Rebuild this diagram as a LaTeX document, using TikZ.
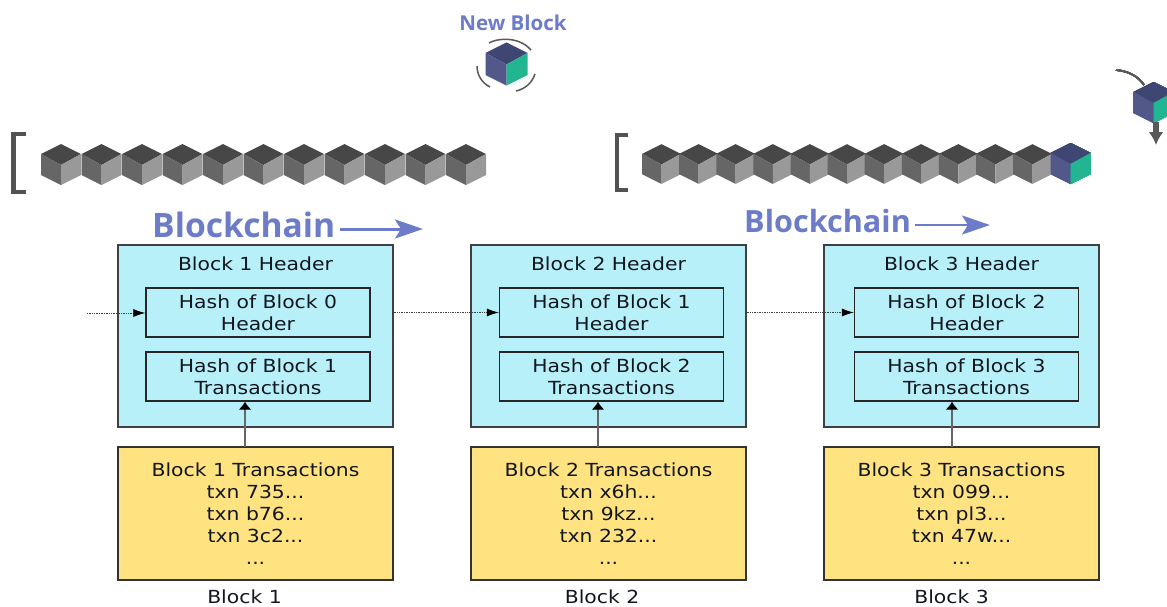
\documentclass[tikz,border=0pt]{standalone}
\usepackage{fontspec}
\setmainfont{Open Sans}
\newfontfamily\boxfont[FakeStretch=1.13]{DejaVu Sans}
\usetikzlibrary{arrows.meta, calc, positioning}
\definecolor{hdrblue}{HTML}{B8F0FA}
\definecolor{txnyellow}{HTML}{FFE380}
\definecolor{chainblue}{HTML}{6C7CC8}
\definecolor{cubedark}{HTML}{3F4674}
\definecolor{cubeleft}{HTML}{52598A}
\definecolor{cubegreen}{HTML}{22B592}
\definecolor{textdark}{HTML}{12161F}
\tikzset{
  hdrbox/.style={draw=black!75, line width=1.5pt, fill=hdrblue, minimum width=275pt, minimum height=182pt, inner sep=0pt},
  hashbox/.style={draw=black!85, line width=1.4pt, fill=hdrblue, align=center, minimum width=224pt, minimum height=49pt, inner sep=0pt, text=textdark, font=\boxfont\fontsize{18}{22}\selectfont},
  txnbox/.style={draw=black!80, line width=1.5pt, fill=txnyellow, align=center, minimum width=275pt, minimum height=133pt, inner sep=0pt, text=textdark, font=\boxfont\fontsize{18}{22}\selectfont},
  lbl/.style={text=textdark, font=\boxfont\fontsize{18}{20}\selectfont},
  link/.style={densely dotted, black!75, line width=0.7pt, -{Latex[black, length=12pt, width=8pt]}},
  feed/.style={line width=1.4pt, black!60, -{Latex[black, length=8pt, width=13pt]}},
  spin/.style={black!65, line width=1.5pt},
  chainarrow/.style={chainblue, -{Stealth[length=28pt, width=19pt, inset=6pt]}}
}
\newcommand{\cube}[6][1]{%
  \begin{scope}[shift={(#2,#3)}, scale=#1]
  \fill[#4] (0,0) -- ++(-20,-11) -- ++(20,-10) -- ++(20,10) -- cycle;
  \fill[#5] (0,0) -- ++(-20,-11) -- ++(0,21) -- ++(20,10) -- cycle;
  \fill[#6] (0,0) -- ++(20,-11) -- ++(0,21) -- ++(-20,10) -- cycle;
  \end{scope}
}
\begin{document}
\begin{tikzpicture}[x=1pt, y=-1pt, >=Latex]
\useasboundingbox (0,0) rectangle (1167,606);
% new block
\node[text=chainblue, font=\bfseries\fontsize{20.5}{24}\selectfont] (newblock) at (513,23) {New Block};
\cube[1.05]{506.5}{64.5}{cubedark}{cubeleft}{cubegreen}
\draw[spin] (489,43) .. controls (495,39) and (518,35) .. (531,50);
\draw[spin] (477,66) .. controls (477,75) and (482,83) .. (490,87);
\draw[spin] (516,91) .. controls (525,89) and (532,83) .. (535,74);
% left chain
\draw[black!68, line width=4.5pt] (26,134) -- (13.5,134) -- (13.5,192) -- (26,192);
\foreach \i in {0,...,10}
  \cube{61+40.5*\i}{165}{black!72}{black!60}{black!40}
% right chain
\draw[black!68, line width=4.5pt] (628,135) -- (617,135) -- (617,190) -- (628,190);
\foreach \i in {0,...,10}
  \cube[0.97]{661.5+37.1*\i}{164.5}{black!72}{black!60}{black!40}
\cube{1070.5}{164}{cubedark}{cubeleft}{cubegreen}
% falling block
\cube{1153.5}{103}{cubedark}{cubeleft}{cubegreen}
\draw[black!65, line width=1.6pt] (1116,70) .. controls (1128,71) and (1138,76) .. (1144,85);
\draw[black!65, line width=6pt, -{Latex[length=13pt, width=15pt]}] (1156,122) -- (1156,145);
% titles
\node[text=chainblue, font=\bfseries\fontsize{33.6}{38}\selectfont, anchor=west, inner sep=0pt] (chain1) at (152,225) {Blockchain};
\coordinate (chain1end) at (423,229);
\draw[chainarrow, line width=3pt] (chain1.east |- chain1end) ++(5,0) -- (chain1end);
\node[text=chainblue, font=\bfseries\fontsize{30.6}{34}\selectfont, anchor=west, inner sep=0pt] (chain2) at (744,221) {Blockchain};
\coordinate (chain2end) at (990,225);
\draw[chainarrow, line width=2.5pt] (chain2.east |- chain2end) ++(4,0) -- (chain2end);
% blocks
\foreach \n/\x/\hx/\nx/\ax/\prev/\ta/\tb/\tc in {1/255.5/258/244.5/245/0/735/b76/3c2, 2/608.5/611.5/602/598/1/x6h/9kz/232, 3/961.5/966.5/951.5/952/2/099/pl3/47w}{
  \node[hdrbox] (hdr\n) at (\x,336) {};
  \node[lbl] (title\n) at (\x,264) {Block \n\ Header};
  \node[hashbox] (prev\n) at (\hx,312.5) {Hash of Block \prev\\Header};
  \node[hashbox] (root\n) at (\hx,376.5) {Hash of Block \n\\Transactions};
  \node[txnbox] (txn\n) at (\x,513.5) {Block \n\ Transactions\\txn \ta...\\txn \tb...\\txn \tc...\\...};
  \node[lbl] (name\n) at (\nx,597) {Block \n};
  \coordinate (feed\n) at (\ax,447);
  \draw[feed] (feed\n) -- (feed\n |- root\n.south);
}
% links between headers
\coordinate (start) at (87,313);
\draw[link] (start) -- (prev1.west |- start);
\draw[link] (hdr1.east |- prev2) -- (prev2.west);
\draw[link] (hdr2.east |- prev3) -- (prev3.west);
\end{tikzpicture}
\end{document}
